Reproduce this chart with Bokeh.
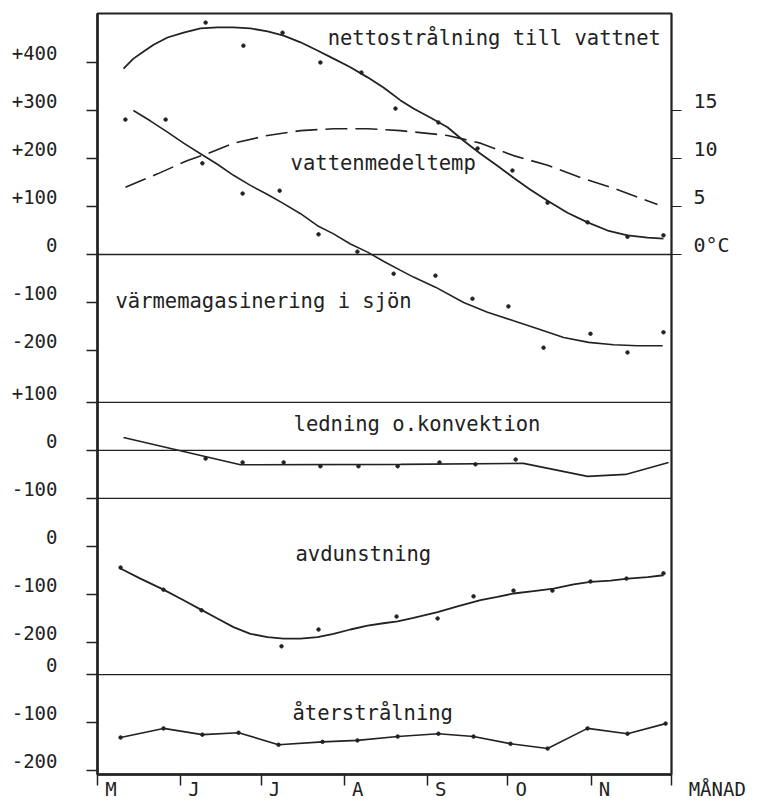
from bokeh.plotting import figure
from bokeh.models import Range1d, LinearAxis, FixedTicker, Span
from bokeh.core.properties import value
from bokeh.embed import file_html
from bokeh.resources import INLINE

FONT = "DejaVu Sans Mono"
INK = "#222222"

# ---------------- x axis (days since 1 May) ----------------
month_start_day = [0, 31, 61, 92, 123, 153, 184, 214]
month_labels = ["M", "J", "J", "A", "S", "O", "N"]
x_axis_title = "MÅNAD"

# ---------------- panel offsets (stacked panels on one y scale) ----------------
OFF_TOP = 0
OFF_LEDNING = -408
OFF_AVDUNST = -608
OFF_ATER = -875
TEMP_FACTOR = 20   # 1 degC = 20 units on the left scale (5 degC = 100)

left_ticks = [400, 300, 200, 100, 0, -100, -200]
left_tick_labels = ["+400", "+300", "+200", "+100", "0", "-100", "-200"]
ledning_ticks = [100, 0, -100]
ledning_tick_labels = ["+100", "0", "-100"]
avdunst_ticks = [0, -100, -200]
avdunst_tick_labels = ["0", "-100", "-200"]
ater_ticks = [0, -100, -200]
ater_tick_labels = ["0", "-100", "-200"]
temp_ticks = [0, 5, 10, 15]
temp_tick_labels = ["0°C", "5", "10", "15"]

# ---------------- nettostrålning till vattnet ----------------
netto_curve_day = [9.7, 13.4, 17.2, 20.9, 26.1, 32.1, 38.4, 44.7, 50.7, 57.0, 63.4, 69.4, 75.7, 82.0,
                   88.0, 94.3, 100.7, 106.6, 113.0, 117.8, 124.2, 130.5, 136.5, 142.8, 149.1, 155.1,
                   161.4, 167.8, 175.2, 182.7, 190.2, 197.6, 205.1, 211.0]
netto_curve_val = [387, 408, 423, 437, 452, 462, 471, 473, 473, 471, 465, 456, 442, 425,
                   408, 390, 369, 348, 321, 304, 285, 265, 237, 210, 185, 160,
                   135, 112, 87, 67, 50, 40, 35, 33]
netto_dot_day = [40.3, 54.4, 69.0, 83.1, 98.4, 111.1, 127.1, 141.7, 154.7, 167.8, 182.7, 197.6, 211.0]
netto_dot_val = [483, 435, 462, 400, 379, 304, 275, 221, 175, 108, 67, 37, 40]

# ---------------- värmemagasinering i sjön ----------------
varme_curve_day = [13.4, 19.8, 26.1, 32.1, 38.4, 44.7, 50.7, 57.0, 63.4, 69.4, 75.7, 82.0, 88.0, 94.3,
                   100.7, 106.6, 113.0, 117.8, 126.0, 136.5, 145.4, 155.1, 164.4, 173.8, 183.1,
                   192.4, 201.3, 210.7]
varme_curve_val = [300, 278, 255, 232, 210, 188, 165, 144, 125, 106, 85, 60, 43, 22,
                   5, -14, -33, -47, -68, -100, -120, -138, -155, -173, -183,
                   -188, -190, -190]
varme_dot_day = [10.4, 25.4, 39.1, 54.1, 67.9, 82.4, 96.9, 110.4, 126.0, 139.8, 153.2, 166.3, 183.8, 197.6, 211.0]
varme_dot_val = [281, 281, 190, 127, 133, 42, 6, -40, -44, -92, -108, -194, -165, -204, -162]

# ---------------- vattenmedeltemp (degC) ----------------
temp_day = [10.4, 22.4, 33.6, 41.0, 50.7, 63.4, 75.7, 88.0, 100.7, 113.0, 130.5, 142.8, 155.1, 167.8, 180.1, 192.4, 208.8]
temp_val = [7.0, 8.4, 9.8, 10.5, 11.6, 12.4, 12.9, 13.1, 13.1, 12.9, 12.4, 11.6, 10.3, 9.3, 8.0, 6.9, 5.2]

# ---------------- ledning o. konvektion ----------------
ledning_line_day = [9.7, 53.3, 113.0, 158.8, 182.7, 196.9, 212.9]
ledning_line_val = [27, -30, -29, -27, -54, -50, -25]
ledning_dot_day = [40.3, 54.1, 69.4, 83.1, 97.3, 111.9, 127.5, 140.9, 155.9]
ledning_dot_val = [-17, -25, -25, -33, -33, -33, -25, -29, -19]

# ---------------- avdunstning ----------------
avdunst_curve_day = [8.6, 16.0, 24.6, 32.1, 38.4, 44.7, 50.7, 57.0, 63.4, 69.4, 75.7, 82.0, 88.0, 94.3,
                     100.7, 106.6, 111.9, 117.8, 126.8, 134.2, 142.8, 149.1, 155.1, 162.6, 170.0,
                     177.5, 183.8, 191.3, 197.6, 205.1, 211.0]
avdunst_curve_val = [-46, -67, -90, -112, -131, -150, -168, -182, -189, -192, -192, -189, -182, -173,
                     -165, -160, -156, -149, -137, -125, -112, -105, -98, -93, -88,
                     -79, -74, -71, -67, -64, -60]
avdunst_dot_day = [8.6, 24.6, 38.8, 68.6, 82.4, 111.5, 126.8, 140.2, 155.1, 169.6, 183.8, 197.2, 211.0]
avdunst_dot_val = [-44, -90, -133, -208, -173, -146, -150, -104, -92, -92, -73, -67, -56]

# ---------------- återstrålning ----------------
ater_day = [8.6, 24.6, 39.1, 52.6, 67.5, 83.9, 96.9, 111.9, 127.1, 140.2, 154.0, 167.8, 182.7, 197.6, 211.8]
ater_val = [-131, -112, -125, -121, -146, -140, -137, -129, -123, -129, -144, -154, -112, -123, -102]

# series captions
captions = ["nettostrålning till vattnet", "vattenmedeltemp", "värmemagasinering i sjön",
            "ledning o.konvektion", "avdunstning", "återstrålning"]
caption_day = [85.8, 72.0, 6.7, 73.1, 73.8, 72.7]
caption_y = [450, 190, -96, -352, -623, -954]

# ---------------- figure ----------------
Y_TOP, Y_BOT = 502, -1083
p = figure(width=764, height=803, x_range=Range1d(0, 214), y_range=Range1d(Y_BOT, Y_TOP),
           output_backend="svg", toolbar_location=None,
           x_axis_location=None, y_axis_location=None,
           min_border_left=97, min_border_right=93, min_border_top=13, min_border_bottom=29)
p.extra_y_ranges = {"temp": Range1d(Y_BOT / TEMP_FACTOR, Y_TOP / TEMP_FACTOR)}
p.grid.visible = False
p.background_fill_color = "white"
p.border_fill_color = "white"
p.outline_line_color = INK
p.outline_line_width = 2

LABEL_SHIFT = 20  # labels sit a little above their tick marks

# left axis
tick_pos, lab_pos, overrides = [], [], {}
for ticks, labs, off in [(left_ticks, left_tick_labels, OFF_TOP),
                         (ledning_ticks, ledning_tick_labels, OFF_LEDNING),
                         (avdunst_ticks, avdunst_tick_labels, OFF_AVDUNST),
                         (ater_ticks, ater_tick_labels, OFF_ATER)]:
    for t, s in zip(ticks, labs):
        tick_pos.append(t + off)
        lp = t + off + LABEL_SHIFT
        lab_pos.append(lp)
        overrides[lp] = s

la = LinearAxis(ticker=FixedTicker(ticks=lab_pos, minor_ticks=tick_pos))
la.major_label_overrides = overrides
la.major_tick_out = 0
la.major_tick_in = 0
la.minor_tick_out = 11
la.minor_tick_in = 0
la.minor_tick_line_width = 1.5
la.minor_tick_line_color = INK
la.axis_line_width = 2.5
la.axis_line_color = INK
la.major_label_standoff = 29
la.major_label_text_font = FONT
la.major_label_text_font_size = "19px"
la.major_label_text_color = INK
p.add_layout(la, "left")

# right (temperature) axis
t_overrides = {}
t_lab = []
for t, s in zip(temp_ticks, temp_tick_labels):
    t_lab.append(t + 1)
    t_overrides[t + 1] = s
ra = LinearAxis(y_range_name="temp", ticker=FixedTicker(ticks=t_lab, minor_ticks=temp_ticks))
ra.major_label_overrides = t_overrides
ra.major_tick_out = 0
ra.major_tick_in = 0
ra.minor_tick_out = 10
ra.minor_tick_in = 0
ra.minor_tick_line_width = 1.2
ra.minor_tick_line_color = INK
ra.axis_line_width = 1.5
ra.axis_line_color = INK
ra.major_label_standoff = 12
ra.major_label_text_font = FONT
ra.major_label_text_font_size = "20px"
ra.major_label_text_color = INK
p.add_layout(ra, "right")

# bottom (month) axis; the axis title sits at the last tick, padded to the right
NBSP = "\u00a0"
m_lab, m_over = [], {}
for d, s in zip(month_start_day[:-1], month_labels):
    m_lab.append(d + 5)
    m_over[d + 5] = s
m_lab.append(month_start_day[-1])
m_over[month_start_day[-1]] = NBSP * 8 + x_axis_title
ba = LinearAxis(ticker=FixedTicker(ticks=m_lab, minor_ticks=month_start_day))
ba.major_label_overrides = m_over
ba.major_tick_out = 0
ba.major_tick_in = 0
ba.minor_tick_out = 11
ba.minor_tick_in = 0
ba.minor_tick_line_width = 1.5
ba.minor_tick_line_color = INK
ba.axis_line_width = 2.5
ba.axis_line_color = INK
ba.major_label_standoff = -8
ba.major_label_text_font = FONT
ba.major_label_text_font_size = "19px"
ba.major_label_text_color = INK
p.add_layout(ba, "below")

# horizontal base lines
for loc in [OFF_TOP, OFF_LEDNING + 100, OFF_LEDNING, OFF_LEDNING - 100, OFF_ATER]:
    p.add_layout(Span(location=loc, dimension="width", line_color=INK, line_width=1.3))

# curves and points
p.line(netto_curve_day, [v + OFF_TOP for v in netto_curve_val], line_color=INK, line_width=1.8)
p.scatter(netto_dot_day, [v + OFF_TOP for v in netto_dot_val], size=3.5, color=INK)

p.line(varme_curve_day, [v + OFF_TOP for v in varme_curve_val], line_color=INK, line_width=1.6)
p.scatter(varme_dot_day, [v + OFF_TOP for v in varme_dot_val], size=3.5, color=INK)

p.line(temp_day, temp_val, y_range_name="temp", line_color=INK, line_width=1.6, line_dash="22 8")

p.line(ledning_line_day, [v + OFF_LEDNING for v in ledning_line_val], line_color=INK, line_width=1.6)
p.scatter(ledning_dot_day, [v + OFF_LEDNING for v in ledning_dot_val], size=3.5, color=INK)

p.line(avdunst_curve_day, [v + OFF_AVDUNST for v in avdunst_curve_val], line_color=INK, line_width=1.8)
p.scatter(avdunst_dot_day, [v + OFF_AVDUNST for v in avdunst_dot_val], size=3.5, color=INK)

p.line(ater_day, [v + OFF_ATER for v in ater_val], line_color=INK, line_width=1.6)
p.scatter(ater_day, [v + OFF_ATER for v in ater_val], size=3.5, color=INK)

p.text(x=caption_day, y=caption_y, text=captions, text_font=value(FONT), text_font_size="20.5px",
       text_color=INK, text_align="left", text_baseline="middle")

open("out.html", "w").write(file_html(p, INLINE))
